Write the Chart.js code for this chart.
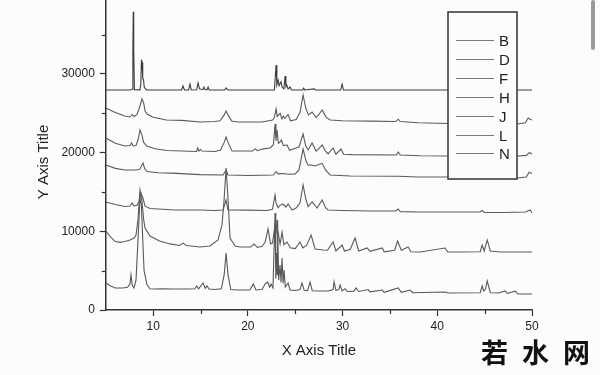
<!DOCTYPE html>
<html lang="zh">
<head>
<meta charset="UTF-8">
<title>XRD patterns</title>
<script src="https://cdn.jsdelivr.net/npm/chart.js"></script>
<style>
  html, body { margin: 0; padding: 0; background: #fcfcfc; }
  #wrap { position: relative; width: 600px; height: 375px; overflow: hidden; }
  #wm {
    position: absolute; top: 338px; left: 481px;
    font-family: "Noto Sans CJK SC", sans-serif; font-size: 27px; line-height: 27px;
    font-weight: 700; color: #111; letter-spacing: 14px; white-space: nowrap;
  }
  #bar { position: absolute; left: 591px; top: 0; width: 4px; height: 50px; background: #9a9a9a; border-radius: 2px; }
</style>
</head>
<body>
<div id="wrap">
  <canvas id="chart" width="600" height="375"></canvas>
  <div id="wm">若水网</div>
  <div id="bar"></div>
</div>
<script>
// sample names, top trace first
const sampleNames = ['B', 'D', 'F', 'H', 'J', 'L', 'N'];

const xTickValues = [10, 20, 30, 40, 50];
const xMinorValues = [15, 25, 35, 45];
const yTickValues = [0, 10000, 20000, 30000];
const yMinorValues = [5000, 15000, 25000, 35000];

// [2theta, intensity] (offsets included)
const seriesB = [[5.0,27960],[7.6,27960],[7.8,28050],[7.86,33000],[7.9,37900],[7.95,33000],[8.02,28000],[8.6,27980],[8.7,28700],[8.76,31800],[8.8,30600],[8.84,31500],[8.9,29400],[8.98,29300],[9.06,28300],[9.3,27980],[13.0,27960],[13.15,28470],[13.3,27960],[13.75,27960],[13.89,28720],[14.03,27960],[14.6,28000],[14.74,28850],[14.9,28100],[15.25,28000],[15.37,28340],[15.5,28000],[15.7,28000],[15.8,28340],[15.92,27960],[17.55,27960],[17.7,28220],[17.88,27960],[22.8,27980],[22.98,31140],[23.06,28600],[23.2,29230],[23.3,28500],[23.5,29000],[23.62,28300],[23.8,28100],[23.93,29740],[24.02,28400],[24.1,28600],[24.25,28100],[24.46,28340],[24.6,27960],[25.8,27980],[25.9,28200],[26.0,27960],[27.0,28100],[27.15,27960],[29.8,27960],[29.95,28720],[30.1,27960],[50,27960]];

const seriesD = [[5.0,25670],[6.0,25100],[7.0,24650],[7.56,24530],[7.8,24850],[8.0,24600],[8.3,24850],[8.6,25900],[8.82,26820],[9.0,26300],[9.15,25300],[9.35,24910],[10.0,24500],[11.4,24150],[13.0,24100],[15.0,23900],[16.5,23950],[17.06,24050],[17.5,24800],[17.7,25290],[17.9,24800],[18.3,24020],[19.0,23900],[21.5,23900],[22.6,24150],[22.8,24450],[22.98,25550],[23.1,24600],[23.4,25000],[23.6,24300],[23.75,24650],[23.9,24350],[24.24,24850],[24.5,24050],[25.1,24200],[25.5,25100],[25.83,27330],[26.1,25700],[26.4,24800],[26.78,25170],[27.2,24450],[27.5,24850],[27.84,25420],[28.3,24450],[28.7,24150],[30.0,24050],[33.0,24000],[35.6,23950],[35.87,24250],[36.1,23950],[38.0,23800],[41.15,23700],[48.44,23640],[49.3,23800],[49.6,24400],[49.8,24250],[50,24150]];

const seriesF = [[5.0,21860],[6.0,21200],[7.03,20850],[7.56,20900],[7.72,21230],[7.9,20850],[8.19,20900],[8.4,21600],[8.61,22880],[8.8,22300],[9.0,21300],[9.32,20840],[10.2,20500],[11.43,20270],[13.0,20200],[14.6,20150],[14.7,20600],[14.85,20200],[15.0,20400],[15.15,20200],[16.5,20150],[17.1,20300],[17.5,21300],[17.7,21990],[17.9,21300],[18.33,20210],[20.5,20200],[20.76,20500],[21.0,20250],[21.5,20450],[22.34,20590],[22.7,21000],[22.87,23640],[22.97,21500],[23.08,22880],[23.22,21200],[23.4,21350],[23.55,21600],[23.75,20900],[24.14,20970],[24.4,20300],[25.0,20550],[25.4,20700],[25.83,22370],[26.1,20900],[26.36,20340],[26.78,21230],[27.2,20200],[27.5,20500],[27.84,20970],[28.2,20200],[28.47,19850],[29.0,20590],[29.3,19800],[29.84,20460],[30.1,19800],[31.0,19750],[35.7,19700],[35.87,20080],[36.1,19700],[38.2,19600],[41.15,19570],[48.44,19570],[49.4,19650],[49.7,20000],[50,19830]];

const seriesH = [[5.0,18430],[6.0,18000],[7.0,17800],[8.3,17790],[8.6,17900],[8.93,18680],[9.1,18000],[9.35,17600],[10.5,17450],[12.0,17400],[14.95,17200],[17.38,17160],[17.7,17790],[17.9,17160],[20.0,17100],[22.7,17150],[22.98,17600],[23.2,17300],[23.7,17350],[24.3,17250],[25.0,17300],[25.4,17800],[25.83,20450],[26.15,18900],[26.36,18400],[26.57,18450],[27.1,18300],[27.5,18500],[27.84,18640],[28.2,17800],[28.68,17160],[30.8,17030],[35.87,17000],[38.0,16900],[41.15,16900],[48.44,16780],[49.4,16900],[49.7,17500],[50,17350]];

const seriesJ = [[5.0,13730],[6.0,13400],[7.0,13150],[7.56,13220],[7.77,13600],[7.98,13220],[8.3,13300],[8.5,13800],[8.72,14870],[8.93,14200],[9.14,13200],[9.67,12900],[11.0,12800],[12.31,12710],[14.95,12710],[16.5,12650],[17.38,12710],[17.7,13980],[17.9,12710],[20.0,12700],[22.0,12650],[22.6,12800],[22.87,14620],[23.0,13500],[23.19,13000],[23.4,13300],[23.72,13470],[24.03,13090],[24.24,13470],[24.67,12710],[25.09,12960],[25.5,13600],[25.83,15890],[26.1,14200],[26.36,13150],[26.78,13730],[27.31,12960],[27.84,13980],[28.2,13000],[28.47,12710],[30.0,12650],[33.0,12580],[35.6,12580],[35.87,12840],[36.1,12500],[38.2,12450],[44.5,12450],[44.74,12650],[44.95,12400],[47.0,12400],[49.3,12450],[49.81,12710],[50,12330]];

const seriesL = [[5.0,10040],[5.5,9300],[6.0,8700],[6.5,8600],[7.0,8700],[7.56,8900],[7.98,9150],[8.19,9530],[8.4,11500],[8.61,15250],[8.8,14000],[9.0,11500],[9.14,10420],[9.67,9400],[10.67,8770],[11.78,8400],[12.8,8200],[13.15,8500],[13.5,8200],[14.95,8000],[16.0,8130],[16.85,8900],[17.27,10800],[17.49,14000],[17.7,18050],[17.91,14000],[18.12,9150],[18.65,8130],[19.18,8000],[20.3,8000],[20.65,8390],[21.0,7950],[21.5,8100],[21.82,8600],[22.13,10300],[22.4,8400],[22.6,8500],[22.87,10800],[22.98,11190],[23.08,9800],[23.19,9900],[23.4,8400],[23.61,9900],[23.8,8300],[24.14,8640],[24.46,7900],[25.0,7800],[25.51,8640],[25.8,7900],[26.2,8200],[26.68,9530],[27.1,7750],[28.0,7630],[28.4,7600],[29.0,8640],[29.3,7500],[29.95,8260],[30.2,7500],[30.8,7700],[31.32,9150],[31.7,7500],[32.59,7880],[32.9,7450],[34.18,7880],[34.4,7400],[35.5,7600],[35.8,8770],[36.2,7600],[36.92,8010],[37.2,7400],[38.2,7370],[40.83,7880],[41.1,7370],[42.41,7370],[44.53,7400],[44.74,8260],[44.95,7500],[45.27,8900],[45.6,7500],[46.64,7370],[50,7370]];

const seriesN = [[5.0,3430],[5.5,3050],[6.0,2800],[6.8,2800],[7.3,2900],[7.55,3300],[7.66,4450],[7.8,3100],[7.98,2800],[8.19,3800],[8.4,8900],[8.61,14240],[8.75,13500],[8.9,9000],[9.04,5000],[9.35,3200],[9.67,2700],[10.2,2670],[11.0,2700],[12.0,2670],[13.5,2670],[14.4,2700],[14.6,3050],[14.8,2700],[15.27,3430],[15.5,2750],[15.69,3050],[15.9,2660],[16.5,2600],[17.2,2700],[17.5,4500],[17.7,7250],[17.9,4500],[18.2,2600],[19.0,2540],[20.2,2540],[20.58,3300],[20.85,2540],[21.5,2600],[21.82,3300],[22.1,3560],[22.3,2900],[22.45,3300],[22.65,2800],[22.87,12330],[22.95,4000],[23.03,7250],[23.1,4500],[23.14,11440],[23.25,3800],[23.4,5720],[23.5,3500],[23.61,6610],[23.72,3400],[23.82,5080],[23.95,2900],[24.24,3430],[24.46,2540],[25.0,2480],[25.5,2600],[25.72,3430],[25.95,2500],[26.3,2450],[26.57,3560],[26.8,2450],[27.5,2420],[28.5,2420],[29.0,2600],[29.1,3600],[29.3,2500],[29.6,2600],[29.74,3180],[29.95,2420],[30.27,2700],[30.5,2350],[31.2,2400],[31.43,2800],[31.7,2350],[32.7,2600],[32.9,2300],[34.18,2540],[34.4,2250],[35.87,2800],[36.2,2250],[37.14,2540],[37.4,2200],[40.83,2290],[41.1,2160],[44.53,2200],[44.74,3050],[44.9,2400],[45.1,2700],[45.27,3700],[45.6,2200],[46.5,2160],[47.17,2420],[47.4,2100],[48.23,2400],[48.5,2050],[50,2030]];

const allSeries = [seriesB, seriesD, seriesF, seriesH, seriesJ, seriesL, seriesN];
const lineColors = ['#3c3c3c', '#5a5a5a', '#5a5a5a', '#5a5a5a', '#5a5a5a', '#5a5a5a', '#575757'];

const FONT = '"Liberation Sans", Arial, sans-serif';

// minor ticks, boxed legend over the traces, axis titles
const overlay = {
  id: 'overlay',
  afterDraw(chart) {
    const ctx = chart.ctx;
    const xs = chart.scales.x, ys = chart.scales.y;
    ctx.save();
    ctx.strokeStyle = '#333';
    ctx.lineWidth = 1.2;
    xMinorValues.forEach(v => {
      const px = Math.round(xs.getPixelForValue(v)) + 0.5;
      ctx.beginPath(); ctx.moveTo(px, ys.bottom); ctx.lineTo(px, ys.bottom + 4); ctx.stroke();
    });
    yMinorValues.forEach(v => {
      const py = Math.round(ys.getPixelForValue(v)) + 0.5;
      ctx.beginPath(); ctx.moveTo(xs.left - 4, py); ctx.lineTo(xs.left, py); ctx.stroke();
    });

    // legend box
    ctx.fillStyle = '#fcfcfc';
    ctx.fillRect(448, 12, 69, 167);
    ctx.strokeStyle = '#333';
    ctx.lineWidth = 1.5;
    ctx.strokeRect(448, 12, 69, 167);
    ctx.font = '15px ' + FONT;
    ctx.textAlign = 'left';
    ctx.textBaseline = 'middle';
    chart.data.datasets.forEach((ds, i) => {
      const y = Math.round(40 + i * 18.9) + 0.5;
      ctx.strokeStyle = '#777';
      ctx.lineWidth = 1;
      ctx.beginPath(); ctx.moveTo(456, y); ctx.lineTo(494, y); ctx.stroke();
      ctx.fillStyle = '#222';
      ctx.fillText(ds.label, 499, y + 1);
    });

    // axis titles
    ctx.fillStyle = '#222';
    ctx.font = '15px ' + FONT;
    ctx.textAlign = 'center';
    ctx.fillText('X Axis Title', (xs.left + xs.right) / 2, 351);
    ctx.translate(43.5, 162);
    ctx.rotate(-Math.PI / 2);
    ctx.fillText('Y Axis Title', 0, 0);
    ctx.restore();
  }
};

new Chart(document.getElementById('chart'), {
  type: 'line',
  data: {
    datasets: sampleNames.map((name, i) => ({
      label: name,
      data: allSeries[i].map(p => ({ x: p[0], y: p[1] })),
      borderColor: lineColors[i],
      borderWidth: 1.1,
      pointRadius: 0,
      tension: 0,
      fill: false
    }))
  },
  options: {
    responsive: false,
    animation: false,
    devicePixelRatio: 1,
    layout: { padding: { left: 0, right: 68, top: 0, bottom: 0 } },
    plugins: { legend: { display: false }, tooltip: { enabled: false } },
    scales: {
      x: {
        type: 'linear', min: 5, max: 50,
        afterBuildTicks: s => { s.ticks = xTickValues.map(v => ({ value: v })); },
        afterFit: s => { s.height = 65; s.paddingLeft = 0; s.paddingRight = 0; },
        grid: { drawOnChartArea: false, drawTicks: true, tickLength: 6, tickColor: '#333', tickWidth: 1.2 },
        border: { display: true, color: '#333', width: 1.5 },
        ticks: { color: '#222', font: { family: FONT, size: 12 }, padding: 3, maxRotation: 0, autoSkip: false, callback: v => String(v) }
      },
      y: {
        type: 'linear', min: 0, max: 39400,
        afterBuildTicks: s => { s.ticks = yTickValues.map(v => ({ value: v })); },
        afterFit: s => { s.width = 105.8; s.paddingTop = 0; s.paddingBottom = 0; },
        grid: { drawOnChartArea: false, drawTicks: true, tickLength: 6, tickColor: '#333', tickWidth: 1.2 },
        border: { display: true, color: '#333', width: 1.5 },
        ticks: { color: '#222', font: { family: FONT, size: 12 }, padding: 5, autoSkip: false, callback: v => String(v) }
      }
    }
  },
  plugins: [overlay]
});
</script>
</body>
</html>
